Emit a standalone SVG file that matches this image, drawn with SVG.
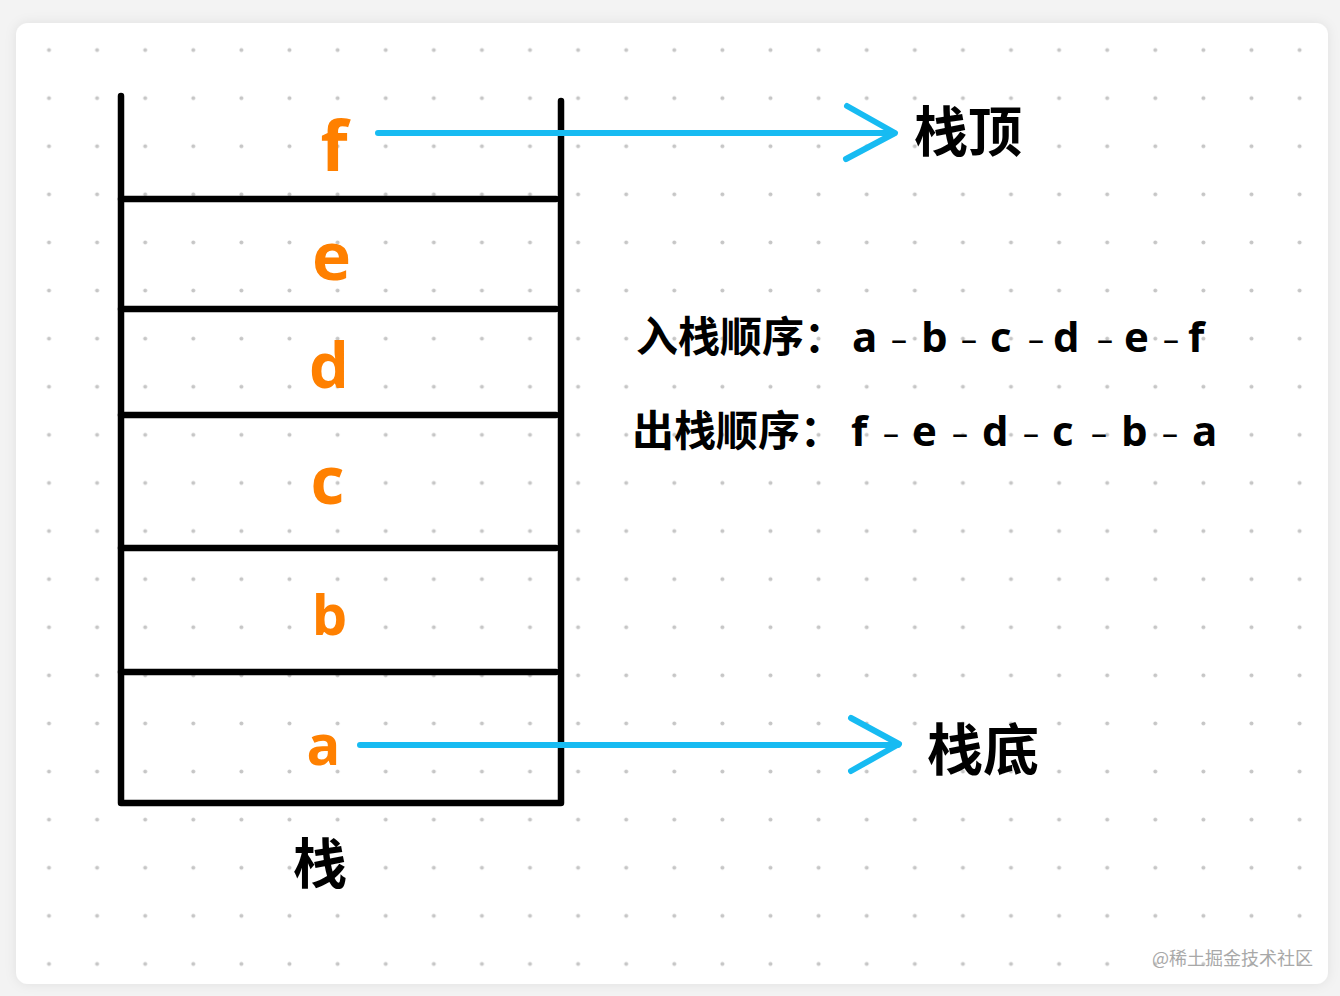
<svg xmlns="http://www.w3.org/2000/svg" width="1340" height="996" viewBox="0 0 1340 996">
<style>
.stk{stroke:#000;stroke-width:6.5;stroke-linecap:round;stroke-linejoin:round;fill:none}
.ltr{font-family:"Open Sans","Noto Sans",sans-serif;font-weight:700;fill:#ff8000;text-anchor:middle}
.cjk{font-family:"Noto Sans CJK SC","Noto Sans",sans-serif;font-weight:700;fill:#000}
.seq{font-family:"Open Sans","Noto Sans","Noto Sans CJK SC",sans-serif;font-weight:700;fill:#000;font-size:42px}
.dash{font-family:"Open Sans",sans-serif;font-weight:400;font-size:32px;fill:#000}
.arr{stroke:#17bbf2;stroke-width:6;stroke-linecap:round;stroke-linejoin:round;fill:none}
.wm{font-family:"Noto Sans CJK SC","Noto Sans",sans-serif;font-size:18px;fill:#a8a8a8}
</style>
<defs>
<pattern id="dots" patternUnits="userSpaceOnUse" x="25" y="26" width="48.1" height="48.1">
<circle cx="24" cy="24" r="2" fill="#c6c6c6"/>
</pattern>
<filter id="sh" x="-5%" y="-5%" width="110%" height="110%">
<feDropShadow dx="0" dy="0" stdDeviation="6" flood-color="#000" flood-opacity="0.08"/>
</filter>
</defs>
<rect x="0" y="0" width="1340" height="996" fill="#f3f3f3"/>
<rect x="16" y="23" width="1312" height="961" rx="12" fill="#fff" filter="url(#sh)"/>
<rect x="25" y="26" width="1296" height="955" fill="url(#dots)"/>

<g id="stack">
<path class="stk" d="M121 96 V803 H561 V101"/>
<line class="stk" x1="121" y1="199" x2="556" y2="199"/>
<line class="stk" x1="121" y1="309" x2="556" y2="309"/>
<line class="stk" x1="121" y1="415" x2="556" y2="415"/>
<line class="stk" x1="121" y1="548" x2="556" y2="548"/>
<line class="stk" x1="121" y1="672" x2="556" y2="672"/>
</g>

<g id="items">
<text class="ltr" x="334" y="171" font-size="70">f</text>
<text class="ltr" x="331.5" y="280" font-size="66">e</text>
<text class="ltr" x="329" y="388" font-size="63">d</text>
<text class="ltr" x="327.5" y="504" font-size="66">c</text>
<text class="ltr" x="329.5" y="635" font-size="56">b</text>
<text class="ltr" x="323.5" y="765" font-size="56">a</text>
</g>

<g id="labels">
<text class="cjk" x="914" y="152" font-size="54">栈顶</text>
<text class="cjk" x="927" y="770" font-size="56">栈底</text>
<text class="cjk" x="293" y="884" font-size="54">栈</text>
</g>

<g id="push-order">
<text class="seq" y="352"><tspan x="636">入栈顺序：</tspan><tspan x="852">a</tspan><tspan class="dash" x="891" dy="-1">–</tspan><tspan x="921" dy="1">b</tspan><tspan class="dash" x="961" dy="-1">–</tspan><tspan x="990" dy="1">c</tspan><tspan class="dash" x="1028" dy="-1">–</tspan><tspan x="1053" dy="1">d</tspan><tspan class="dash" x="1097" dy="-1">–</tspan><tspan x="1124" dy="1">e</tspan><tspan class="dash" x="1163" dy="-1">–</tspan><tspan x="1188" dy="1">f</tspan></text>
</g>
<g id="pop-order">
<text class="seq" y="446"><tspan x="632">出栈顺序：</tspan><tspan x="851">f</tspan><tspan class="dash" x="883" dy="-1">–</tspan><tspan x="912" dy="1">e</tspan><tspan class="dash" x="952" dy="-1">–</tspan><tspan x="982" dy="1">d</tspan><tspan class="dash" x="1023" dy="-1">–</tspan><tspan x="1052" dy="1">c</tspan><tspan class="dash" x="1091" dy="-1">–</tspan><tspan x="1121" dy="1">b</tspan><tspan class="dash" x="1162" dy="-1">–</tspan><tspan x="1192" dy="1">a</tspan></text>
</g>

<g id="connectors">
<line class="arr" x1="378" y1="133" x2="894" y2="133"/>
<polyline class="arr" points="847,106 895,133 846,159"/>
<line class="arr" x1="360" y1="745" x2="898" y2="745"/>
<polyline class="arr" points="851,718 899,744 851,771"/>
</g>

<text class="wm" x="1152" y="965">@稀土掘金技术社区</text>
</svg>
